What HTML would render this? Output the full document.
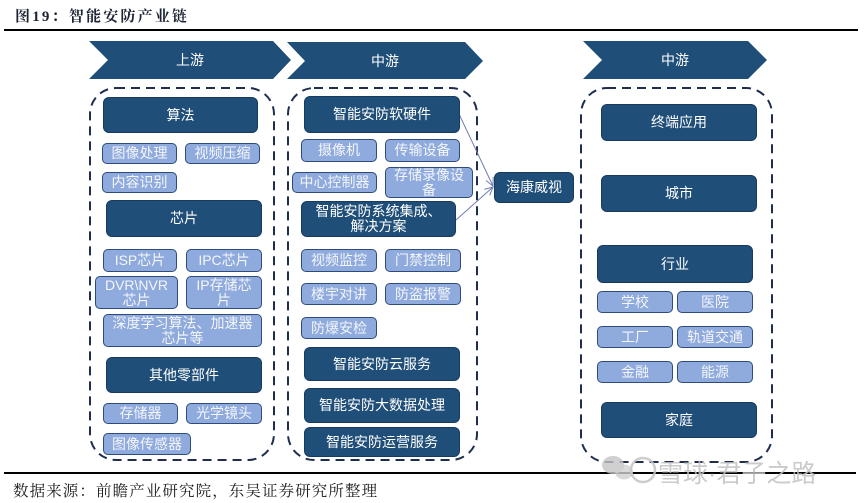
<!DOCTYPE html>
<html><head><meta charset="utf-8">
<style>
html,body{margin:0;padding:0;background:#fff;}
body{width:864px;height:503px;position:relative;overflow:hidden;font-family:"Liberation Sans","Noto Sans CJK SC",sans-serif;}
.b{position:absolute;box-sizing:border-box;display:flex;align-items:center;justify-content:center;text-align:center;color:#fff;font-size:14px;line-height:15px;border-radius:6px;}
.d{background:#1f4e79;border:1.5px solid #173a5e;}
.l{background:#8faadc;border:1.5px solid #2f4b7c;border-radius:5px;color:#f4f6fb;}
.t{position:absolute;white-space:nowrap;}
</style></head><body>
<div class="t" style="left:15px;top:5px;font-family:'Liberation Serif','Noto Serif CJK SC',serif;font-weight:bold;font-size:15px;color:#1c2333;letter-spacing:2.2px;">图19：智能安防产业链</div>
<div style="position:absolute;left:4px;top:29px;width:854px;height:2px;background:#000;"></div>

<svg width="864" height="503" style="position:absolute;left:0;top:0;">
  <defs>
    <marker id="ah" markerWidth="10" markerHeight="10" refX="9" refY="5" orient="auto" markerUnits="userSpaceOnUse">
      <path d="M1,1 L9,5 L1,9" fill="none" stroke="#6f7fb0" stroke-width="1"/>
    </marker>
  </defs>
  <polygon points="89,41 273,41 291,60 273,79 89,79 108,60" fill="#1f4e79"/>
  <polygon points="287,42 465,42 483,61 465,79 287,79 305,61" fill="#1f4e79"/>
  <polygon points="583,41 748,41 767,60 748,79 583,79 602,60" fill="#1f4e79"/>
  <text x="190" y="65" fill="#fff" font-size="14" text-anchor="middle" font-family="Liberation Sans, Noto Sans CJK SC, sans-serif">上游</text>
  <text x="385" y="66" fill="#fff" font-size="14" text-anchor="middle" font-family="Liberation Sans, Noto Sans CJK SC, sans-serif">中游</text>
  <text x="675" y="65" fill="#fff" font-size="14" text-anchor="middle" font-family="Liberation Sans, Noto Sans CJK SC, sans-serif">中游</text>
  <rect x="90" y="88" width="184" height="372" rx="26" ry="26" fill="none" stroke="#1f2d4f" stroke-width="2" stroke-dasharray="9,6"/>
  <rect x="288" y="88" width="189" height="372" rx="26" ry="26" fill="none" stroke="#1f2d4f" stroke-width="2" stroke-dasharray="9,6"/>
  <rect x="581" y="88" width="191" height="374" rx="26" ry="26" fill="none" stroke="#1f2d4f" stroke-width="2" stroke-dasharray="9,6"/>
  <line x1="459" y1="114" x2="493" y2="186" stroke="#6f7fb0" stroke-width="1" marker-end="url(#ah)"/>
  <line x1="456" y1="220" x2="493" y2="187" stroke="#6f7fb0" stroke-width="1" marker-end="url(#ah)"/>
</svg>

<!-- left column -->
<div class="b d" style="left:103px;top:97px;width:155px;height:36px;">算法</div>
<div class="b l" style="left:102px;top:143px;width:75px;height:21px;">图像处理</div>
<div class="b l" style="left:185px;top:143px;width:75px;height:21px;">视频压缩</div>
<div class="b l" style="left:102px;top:172px;width:75px;height:21px;">内容识别</div>
<div class="b d" style="left:106px;top:200px;width:156px;height:37px;">芯片</div>
<div class="b l" style="left:103px;top:249px;width:74px;height:23px;">ISP芯片</div>
<div class="b l" style="left:186px;top:249px;width:76px;height:23px;">IPC芯片</div>
<div class="b l" style="left:95px;top:276px;width:83px;height:33px;">DVR\NVR<br>芯片</div>
<div class="b l" style="left:186px;top:276px;width:76px;height:33px;">IP存储芯<br>片</div>
<div class="b l" style="left:103px;top:314px;width:159px;height:33px;">深度学习算法、加速器<br>芯片等</div>
<div class="b d" style="left:106px;top:357px;width:156px;height:36px;">其他零部件</div>
<div class="b l" style="left:103px;top:403px;width:75px;height:21px;">存储器</div>
<div class="b l" style="left:186px;top:403px;width:76px;height:21px;">光学镜头</div>
<div class="b l" style="left:103px;top:433px;width:88px;height:22px;">图像传感器</div>

<!-- middle column -->
<div class="b d" style="left:304px;top:96px;width:156px;height:37px;">智能安防软硬件</div>
<div class="b l" style="left:301px;top:139px;width:76px;height:23px;">摄像机</div>
<div class="b l" style="left:385px;top:139px;width:75px;height:23px;">传输设备</div>
<div class="b l" style="left:292px;top:172px;width:85px;height:21px;">中心控制器</div>
<div class="b l" style="left:385px;top:167px;width:88px;height:31px;">存储录像设<br>备</div>
<div class="b d" style="left:301px;top:201px;width:155px;height:36px;">智能安防系统集成、<br>解决方案</div>
<div class="b l" style="left:301px;top:249px;width:76px;height:23px;">视频监控</div>
<div class="b l" style="left:385px;top:249px;width:76px;height:23px;">门禁控制</div>
<div class="b l" style="left:301px;top:283px;width:76px;height:22px;">楼宇对讲</div>
<div class="b l" style="left:385px;top:283px;width:76px;height:22px;">防盗报警</div>
<div class="b l" style="left:301px;top:317px;width:76px;height:22px;">防爆安检</div>
<div class="b d" style="left:304px;top:347px;width:156px;height:34px;">智能安防云服务</div>
<div class="b d" style="left:304px;top:388px;width:156px;height:35px;">智能安防大数据处理</div>
<div class="b d" style="left:304px;top:427px;width:156px;height:30px;">智能安防运营服务</div>

<div class="b d" style="left:494px;top:172px;width:80px;height:31px;">海康威视</div>

<!-- right column -->
<div class="b d" style="left:601px;top:104px;width:156px;height:37px;">终端应用</div>
<div class="b d" style="left:601px;top:175px;width:156px;height:37px;">城市</div>
<div class="b d" style="left:597px;top:245px;width:156px;height:38px;">行业</div>
<div class="b l" style="left:597px;top:291px;width:76px;height:22px;">学校</div>
<div class="b l" style="left:677px;top:291px;width:76px;height:22px;">医院</div>
<div class="b l" style="left:597px;top:326px;width:76px;height:22px;">工厂</div>
<div class="b l" style="left:677px;top:326px;width:76px;height:22px;">轨道交通</div>
<div class="b l" style="left:597px;top:361px;width:76px;height:22px;">金融</div>
<div class="b l" style="left:677px;top:361px;width:76px;height:22px;">能源</div>
<div class="b d" style="left:601px;top:402px;width:156px;height:36px;">家庭</div>

<!-- bottom -->
<div style="position:absolute;left:4px;top:472px;width:852px;height:2px;background:#000;"></div>
<div class="t" style="left:13px;top:479px;font-family:'Liberation Serif','Noto Serif CJK SC',serif;font-size:15.5px;color:#1c1c1c;letter-spacing:1.1px;">数据来源：前瞻产业研究院，东吴证券研究所整理</div>

<!-- watermark -->
<svg width="864" height="503" style="position:absolute;left:0;top:0;">
  <ellipse cx="613" cy="465" rx="11" ry="9" fill="#c4c4c4" opacity="0.8"/>
  <ellipse cx="624" cy="472" rx="9" ry="7.5" fill="#cfcfcf" opacity="0.8"/>
  <circle cx="643" cy="470" r="12" fill="none" stroke="#c4c4c4" stroke-width="2.5" opacity="0.85"/>
  <text x="658" y="482" fill="#c2c2c2" font-size="25" opacity="0.85" font-family="Liberation Sans, Noto Sans CJK SC, sans-serif">雪球·君子之路</text>
</svg>
</body></html>
